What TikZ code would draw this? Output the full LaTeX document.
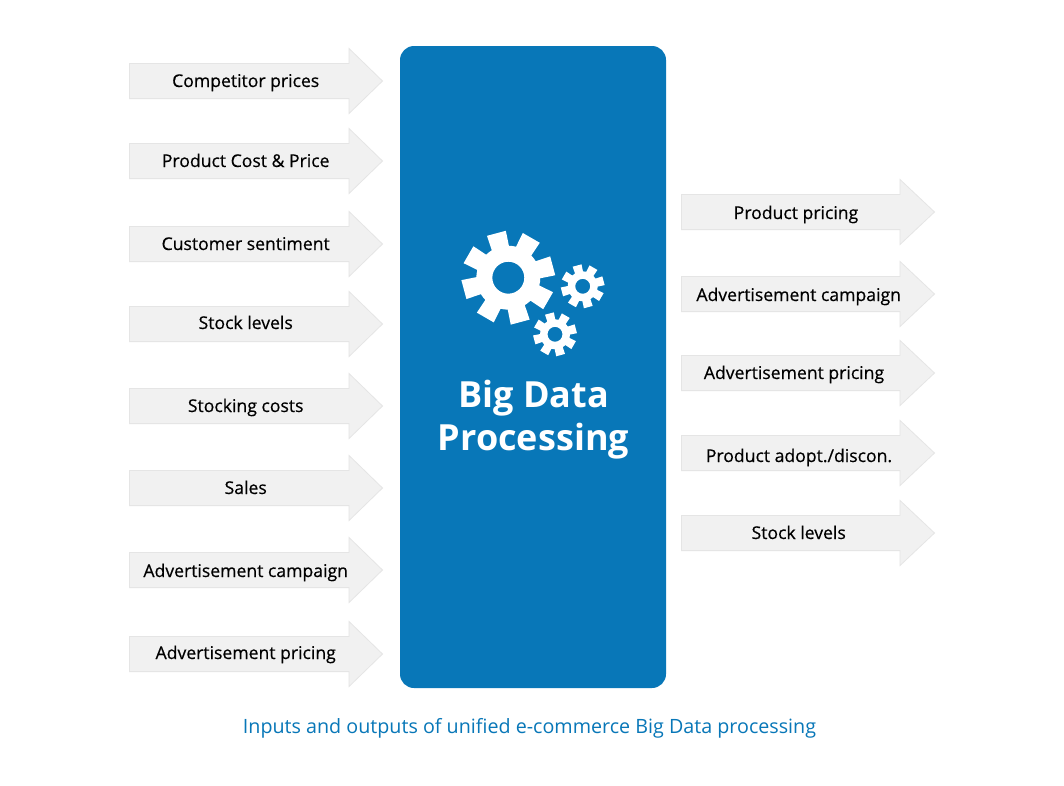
\documentclass[tikz,border=0pt]{standalone}
\usepackage{fontspec}
\setmainfont{Open Sans}
\newfontfamily\semibold[FakeBold=0.5]{Open Sans}
\definecolor{bluebox}{HTML}{0877B8}
\definecolor{arrowfill}{HTML}{F1F1F1}
\definecolor{arrowline}{HTML}{E5E5E5}
\tikzset{
  x=1pt,y=-1pt,
  arrowbox/.style={fill=arrowfill,draw=arrowline,line width=0.8pt},
  arrowlabel/.style={font=\semibold\fontsize{17.6}{20}\selectfont,text=black,inner sep=0pt,anchor=base},
  coreBox/.style={fill=bluebox,rounded corners=14pt},
  coreTitle/.style={font=\bfseries\fontsize{36}{43}\selectfont,text=white,align=center,inner sep=0pt},
  caption/.style={font=\fontsize{19.7}{24}\selectfont,text=bluebox,inner sep=0pt,anchor=base},
}
% #1 left x, #2 centre y, #3 right shoulder x, #4 tip x
\newcommand{\flowarrow}[4]{%
  \path[arrowbox] (#1+.4,#2-17.6) -- (#3,#2-17.6) -- (#3,#2-32.5) -- (#4-.5,#2) -- (#3,#2+32.5) -- (#3,#2+17.6) -- (#1+.4,#2+17.6) -- cycle;}
% #1 centre x, #2 centre y, #3 outer radius
\newcommand{\gearshape}[3]{%
  \begin{scope}[shift={(#1,#2)},y=1pt]
  \fill[white,even odd rule]
    (-1:{#3*0.68})
    \foreach \a in {0,45,...,315}{
      -- ({15+\a-12}:{#3}) -- ({15+\a+12}:{#3}) -- ({15+\a+16}:{#3*0.68}) arc[start angle={15+\a+16},delta angle=13,radius={#3*0.68}]
    } -- cycle
    (0,0) circle[radius={#3*0.34}];
  \end{scope}}
\begin{document}
\begin{tikzpicture}
\useasboundingbox (0,0) rectangle (1064,785);
\fill[white] (0,0) rectangle (1064,785);
\foreach \yy in {81,161,244,324,406,488,570,654}{\flowarrow{129}{\yy}{349}{383}}
\foreach \yy in {212,294,373,453,533}{\flowarrow{681}{\yy}{900}{935}}
\node[arrowlabel] (i1) at (245.7,87) {Competitor prices};
\node[arrowlabel] (i2) at (245.7,167) {Product Cost \& Price};
\node[arrowlabel] (i3) at (245.7,250) {Customer sentiment};
\node[arrowlabel] (i4) at (245.7,329) {Stock levels};
\node[arrowlabel] (i5) at (245.7,412) {Stocking costs};
\node[arrowlabel] (i6) at (245.7,494) {Sales};
\node[arrowlabel] (i7) at (245.7,577) {Advertisement campaign};
\node[arrowlabel] (i8) at (245.7,659) {Advertisement pricing};
\node[arrowlabel] (o1) at (796,219) {Product pricing};
\node[arrowlabel] (o2) at (798.7,301) {Advertisement campaign};
\node[arrowlabel] (o3) at (794,379) {Advertisement pricing};
\node[arrowlabel] (o4) at (799,462) {Product adopt./discon.};
\node[arrowlabel] (o5) at (798.7,539) {Stock levels};
\path[coreBox] (400,46) rectangle (666,688);
\gearshape{508.3}{277.7}{47}
\gearshape{582.7}{286.3}{22}
\gearshape{555}{334.3}{22}
\node[coreTitle] (core) at (533.5,420) {Big Data\\Processing};
\node[caption] (cap) at (529.5,733) {Inputs and outputs of unified e-commerce Big Data processing};
\end{tikzpicture}
\end{document}
